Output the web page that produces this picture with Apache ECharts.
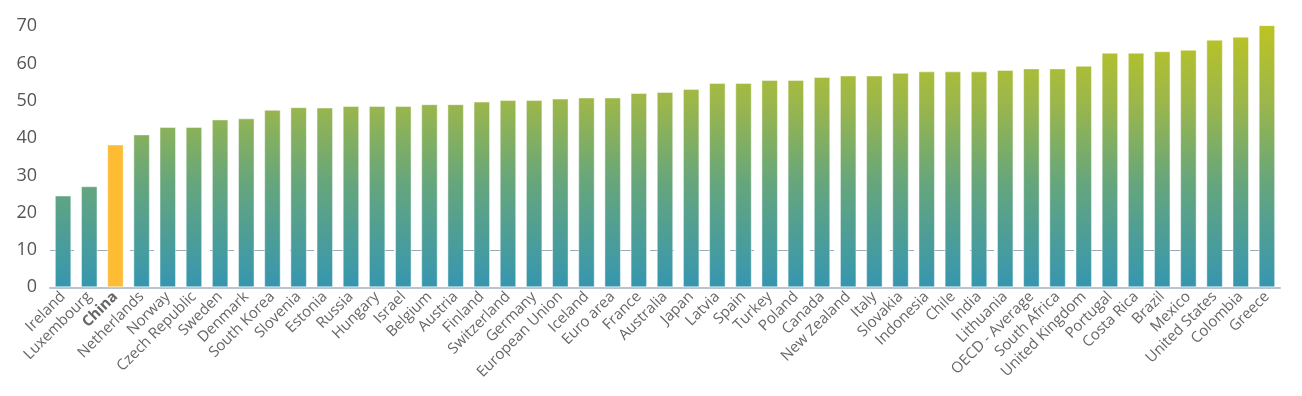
<!DOCTYPE html>
<html>
<head>
<meta charset="utf-8">
<script src="https://cdn.jsdelivr.net/npm/echarts@6/dist/echarts.min.js"></script>
<style>
html,body{margin:0;padding:0;background:#fff;}
#chart{width:1302px;height:396px;}
</style>
</head>
<body>
<div id="chart"></div>
<script>
const categories = ["Ireland","Luxembourg","China","Netherlands","Norway","Czech Republic","Sweden","Denmark","South Korea","Slovenia","Estonia","Russia","Hungary","Israel","Belgium","Austria","Finland","Switzerland","Germany","European Union","Iceland","Euro area","France","Australia","Japan","Latvia","Spain","Turkey","Poland","Canada","New Zealand","Italy","Slovakia","Indonesia","Chile","India","Lithuania","OECD - Average","South Africa","United Kingdom","Portugal","Costa Rica","Brazil","Mexico","United States","Colombia","Greece"];
const values = [24.6,27.1,38.3,41.0,43.0,43.0,45.0,45.3,47.6,48.3,48.2,48.6,48.6,48.6,49.1,49.1,49.8,50.2,50.2,50.6,50.9,50.9,52.1,52.4,53.2,54.8,54.8,55.6,55.6,56.4,56.8,56.8,57.5,57.9,57.9,57.9,58.3,58.7,58.7,59.4,62.9,62.9,63.3,63.7,66.4,67.2,70.3];
const highlight = "China";
const yTicks = [0,10,20,30,40,50,60,70];

const grad = {
  type:'linear', x:0, y:25, x2:0, y2:287, global:true,
  colorStops:[
    {offset:0, color:'#bdc421'},
    {offset:0.3, color:'#9bb64b'},
    {offset:0.6, color:'#66a67c'},
    {offset:1, color:'#3696b0'}
  ]
};

const chart = echarts.init(document.getElementById('chart'));
chart.setOption({
  animation:false,
  grid:{left:50, right:22, top:7.6, bottom:108.7, containLabel:false},
  xAxis:{
    type:'category',
    data:categories,
    axisLine:{show:true, lineStyle:{color:'#b9c5cd', width:2}},
    axisTick:{show:false},
    axisLabel:{
      interval:0, rotate:45, margin:7,
      fontFamily:'Open Sans', fontSize:15, color:'#666',
      formatter:function(v){ return v===highlight ? '{b|'+v+'}' : v; },
      rich:{b:{fontWeight:'bold', fontFamily:'Open Sans', fontSize:15, color:'#666'}}
    }
  },
  yAxis:{
    type:'value', min:0, max:75, interval:10,
    axisLine:{show:false}, axisTick:{show:false},
    splitLine:{show:false},
    axisLabel:{
      showMaxLabel:false, margin:13,
      fontFamily:'Open Sans', fontSize:18, color:'#555',
      padding:[0,0,5,0],
      formatter:function(v){ return yTicks.indexOf(v)>=0 ? String(v) : ''; }
    }
  },
  series:[
    {
      type:'line', data:[], z:1, silent:true,
      markLine:{
        z:1, silent:true, symbol:'none', label:{show:false},
        lineStyle:{color:'#9aabb8', width:1.2, type:[24,16]},
        data:[{yAxis:10}]
      }
    },
    {
      type:'bar', z:2, barWidth:'63%',
      data:values.map(function(v,i){
        return categories[i]===highlight
          ? {value:v, itemStyle:{color:'#fdbc33'}}
          : v;
      }),
      itemStyle:{color:grad, borderColor:'rgba(255,255,255,0.45)', borderWidth:1}
    }
  ]
});
</script>
</body>
</html>
